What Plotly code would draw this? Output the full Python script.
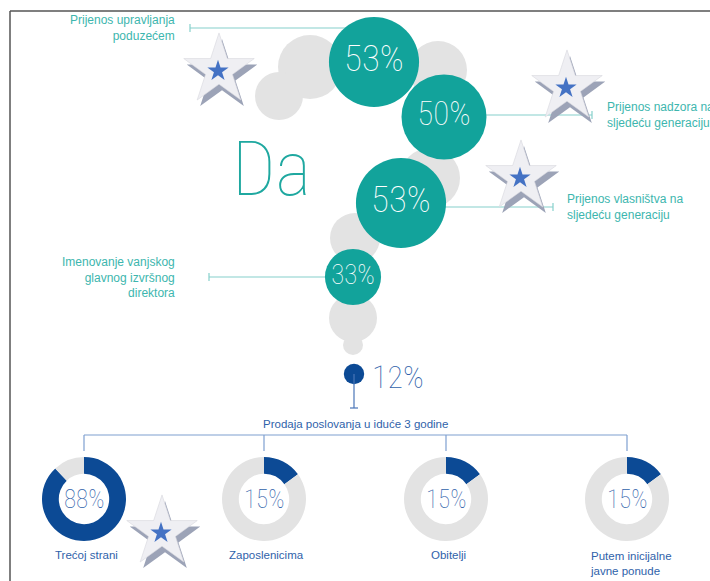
import plotly.graph_objects as go

# podaci
naslov = "Da"
mjere = ["Prijenos upravljanja<br>poduzećem",
         "Prijenos nadzora na<br>sljedeću generaciju",
         "Prijenos vlasništva na<br>sljedeću generaciju",
         "Imenovanje vanjskog<br>glavnog izvršnog<br>direktora"]
postoci = [53, 50, 53, 33]
prodaja = 12
prodaja_naslov = "Prodaja poslovanja u iduće 3 godine"
kupci = ["Trećoj strani", "Zaposlenicima", "Obitelji", "Putem inicijalne<br>javne ponude"]
kupci_postoci = [88, 15, 15, 15]

# raspored u pikselima (y prema dolje)
W, H = 710, 581
mjehur_x = [374, 444, 401, 353]
mjehur_y = [62, 117, 203, 277]
mjehur_font = [37, 33, 37, 27]
px_po_postotku = 1.7   # promjer kruga za 1 %
crta_y = [28, 115, 207, 277]
kvacica_x = [190, 592, 553, 209]
oznaka_x = [177, 605, 565, 177]
oznaka_strana = ["right", "left", "left", "right"]
sivi = [(310, 67, 32), (279, 96, 24), (438, 70, 29), (430, 178, 30),
        (355, 238, 25), (353, 318, 24), (353, 345, 10)]
zvijezde_x = [219, 567, 521, 162]
zvijezde_y = [70, 87, 177, 532]
tocka_x, tocka_y = 354, 374
krafne_x = [84, 264, 446, 627]
krafna_y, krafna_r = 499, 42

TIRKIZ = "#12a39b"
TIRKIZ_TEKST = "#3db6ae"
TIRKIZ_CRTA = "#86d0cb"
PLAVA = "#0c4a95"
PLAVA_TEKST = "#2f62aa"
SIVA = "#e3e3e3"
TANKI = "Roboto Condensed, DejaVu Sans Condensed, Roboto"
OBICNI = "Liberation Sans, Arial"

fig = go.Figure()
shapes = []
ann = []

# okvir
shapes.append(dict(type="line", x0=10, x1=W, y0=11, y1=11, line=dict(color="#555555", width=1.5)))
shapes.append(dict(type="line", x0=10, x1=10, y0=11, y1=H, line=dict(color="#555555", width=1.5)))

# sivi ukrasni mjehurići
for cx, cy, r in sivi:
    shapes.append(dict(type="circle", x0=cx - r, x1=cx + r, y0=cy - r, y1=cy + r,
                       fillcolor=SIVA, line=dict(width=0), layer="below"))

# crte do oznaka
for i in range(len(mjere)):
    shapes.append(dict(type="line", x0=kvacica_x[i], x1=mjehur_x[i], y0=crta_y[i], y1=crta_y[i],
                       line=dict(color=TIRKIZ_CRTA, width=1.2), layer="below"))
    shapes.append(dict(type="line", x0=kvacica_x[i], x1=kvacica_x[i], y0=crta_y[i] - 4, y1=crta_y[i] + 4,
                       line=dict(color=TIRKIZ_CRTA, width=1.2), layer="below"))
    ann.append(dict(x=oznaka_x[i], y=crta_y[i], text=mjere[i], showarrow=False,
                    xanchor=oznaka_strana[i], yanchor="middle", align=oznaka_strana[i],
                    font=dict(family=OBICNI, size=12, color=TIRKIZ_TEKST)))

# zvijezde (sjena, zvijezda, plava sredina)
fig.add_trace(go.Scatter(x=[x + 3 for x in zvijezde_x], y=[y + 6 for y in zvijezde_y], mode="markers",
                         marker=dict(symbol="star", size=53, color="#9ca3b7", line=dict(width=0)),
                         hoverinfo="skip", showlegend=False))
fig.add_trace(go.Scatter(x=zvijezde_x, y=zvijezde_y, mode="markers",
                         marker=dict(symbol="star", size=53, color="#efeff3", line=dict(color="#d6d7de", width=0.6)),
                         hoverinfo="skip", showlegend=False))
fig.add_trace(go.Scatter(x=[x - 1 for x in zvijezde_x], y=[y + 1 for y in zvijezde_y], mode="markers",
                         marker=dict(symbol="star", size=16, color="#4472c4", line=dict(width=0)),
                         hoverinfo="skip", showlegend=False))

# tirkizni mjehurići s postocima
fig.add_trace(go.Scatter(x=mjehur_x, y=mjehur_y, mode="markers+text",
                         marker=dict(size=[p * px_po_postotku for p in postoci], color=TIRKIZ, line=dict(width=0), opacity=1),
                         text=[f"{p}%" for p in postoci], textposition="middle center",
                         textfont=dict(family=TANKI, size=mjehur_font, color="white", weight=100),
                         hoverinfo="skip", showlegend=False))

# "Da"
ann.append(dict(x=271, y=169, text=naslov, showarrow=False, xanchor="center", yanchor="middle",
                font=dict(family=TANKI, size=76, color="#1fa8a0", weight=100)))

# 12 % - prodaja
shapes.append(dict(type="line", x0=tocka_x, x1=tocka_x, y0=tocka_y, y1=408, line=dict(color="#4a76b8", width=1.2)))
shapes.append(dict(type="line", x0=tocka_x - 4, x1=tocka_x + 4, y0=408, y1=408, line=dict(color="#4a76b8", width=1.2)))
fig.add_trace(go.Scatter(x=[tocka_x], y=[tocka_y], mode="markers",
                         marker=dict(size=prodaja * px_po_postotku, color=PLAVA, line=dict(width=0)),
                         hoverinfo="skip", showlegend=False))
ann.append(dict(x=370, y=377, text=f"{prodaja}%", showarrow=False, xanchor="left", yanchor="middle",
                font=dict(family=TANKI, size=32, color=PLAVA_TEKST, weight=100)))
ann.append(dict(x=355, y=424, text=prodaja_naslov, showarrow=False, xanchor="center", yanchor="middle",
                font=dict(family=OBICNI, size=11.5, color=PLAVA_TEKST)))

# zagrada prema krafnama
shapes.append(dict(type="line", x0=krafne_x[0], x1=krafne_x[-1], y0=435, y1=435, line=dict(color="#7e9fd0", width=1.2)))
for cx in krafne_x:
    shapes.append(dict(type="line", x0=cx, x1=cx, y0=435, y1=451, line=dict(color="#7e9fd0", width=1.2)))

# krafne
for i, v in enumerate(kupci_postoci):
    cx = krafne_x[i]
    fig.add_trace(go.Pie(values=[v, 100 - v], labels=["da", "ostalo"], hole=0.6, sort=False,
                         direction="clockwise", rotation=0, textinfo="none", hoverinfo="skip",
                         marker=dict(colors=[PLAVA, SIVA], line=dict(width=0)), showlegend=False,
                         domain=dict(x=[(cx - krafna_r) / W, (cx + krafna_r) / W],
                                     y=[1 - (krafna_y + krafna_r) / H, 1 - (krafna_y - krafna_r) / H])))
    ann.append(dict(x=cx, y=krafna_y, text=f"{v}%", showarrow=False, xanchor="center", yanchor="middle",
                    font=dict(family=TANKI, size=25, color=PLAVA_TEKST, weight=100)))
    ann.append(dict(x=cx + (4 if "<br>" in kupci[i] else 2), y=555, text=kupci[i], showarrow=False,
                    xanchor="center", yanchor="top" if "<br>" in kupci[i] else "middle", align="left",
                    yshift=7 if "<br>" in kupci[i] else 0,
                    font=dict(family=OBICNI, size=11.5, color=PLAVA_TEKST)))

fig.update_layout(
    width=W, height=H, margin=dict(l=0, r=0, t=0, b=0),
    paper_bgcolor="white", plot_bgcolor="white",
    xaxis=dict(range=[0, W], visible=False, fixedrange=True),
    yaxis=dict(range=[H, 0], visible=False, fixedrange=True),
    shapes=shapes, annotations=ann,
)

fig.write_html("out.html", config={"displayModeBar": False},
               post_script="document.body.style.margin='0';")
